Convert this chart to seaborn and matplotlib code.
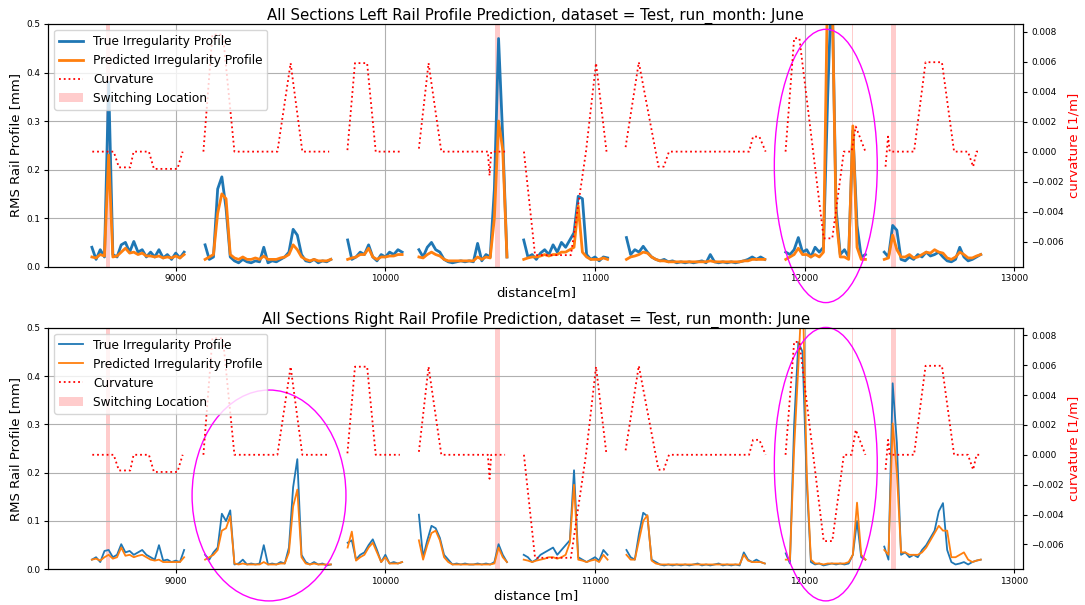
import matplotlib
matplotlib.use("Agg")
import matplotlib.pyplot as plt
from matplotlib.patches import Ellipse
from matplotlib.lines import Line2D
import seaborn as sns
import pandas as pd
import numpy as np

# distance sampling of the measured sections [m]
STEP = 20
section_start = [8600, 9140, 9820, 10160, 10660, 11150, 11910, 12380]

# RMS profile values in 1e-3 mm, one list per section
left_true = [
    [40, 15, 35, 20, 380, 25, 20, 45, 50, 30, 52, 30, 35, 20, 30, 20, 35, 18, 25, 15, 28, 18, 30],
    [45, 15, 20, 160, 185, 120, 20, 12, 8, 15, 10, 8, 12, 10, 40, 8, 12, 10, 15, 20, 30, 77, 65, 25, 12, 10, 15, 8, 12, 10, 15],
    [55, 15, 20, 30, 25, 45, 20, 12, 25, 20, 30, 25, 35, 30],
    [35, 20, 40, 50, 35, 30, 15, 10, 8, 10, 12, 10, 12, 10, 48, 12, 25, 20, 160, 470, 265, 20],
    [55, 20, 25, 15, 28, 35, 25, 45, 30, 50, 40, 55, 70, 145, 140, 25, 15, 20, 12, 20, 18],
    [60, 25, 35, 30, 42, 30, 20, 15, 12, 15, 10, 12, 8, 10, 8, 10, 8, 10, 12, 8, 25, 10, 8, 10, 8, 10, 8, 10, 12, 15, 20, 15, 20, 15],
    [30, 25, 35, 60, 30, 35, 20, 40, 30, 40, 350, 600, 120, 25, 35, 20, 280, 85, 20, 25],
    [30, 20, 85, 75, 15, 12, 20, 15, 25, 20, 30, 22, 25, 30, 20, 12, 10, 15, 40, 20, 12, 15, 20, 25],
]
left_pred = [
    [20, 18, 25, 22, 230, 20, 22, 30, 38, 28, 30, 25, 28, 22, 22, 20, 22, 18, 20, 18, 22, 18, 25],
    [15, 20, 25, 110, 150, 140, 25, 18, 15, 20, 15, 15, 18, 15, 22, 15, 15, 15, 18, 20, 25, 45, 35, 20, 15, 12, 15, 12, 12, 12, 15],
    [15, 18, 20, 25, 25, 38, 20, 15, 20, 20, 22, 22, 25, 25],
    [20, 18, 25, 30, 25, 22, 15, 12, 12, 12, 12, 12, 12, 12, 20, 15, 20, 18, 100, 300, 240, 20],
    [15, 18, 20, 20, 22, 25, 22, 25, 25, 30, 30, 35, 40, 125, 30, 20, 15, 15, 15, 18, 15],
    [15, 20, 22, 25, 30, 28, 20, 15, 12, 12, 10, 10, 10, 10, 10, 10, 10, 10, 10, 10, 12, 10, 10, 10, 10, 10, 10, 10, 12, 12, 15, 15, 15, 15],
    [15, 20, 25, 38, 25, 25, 20, 25, 20, 30, 600, 600, 100, 20, 20, 15, 290, 40, 15, 15],
    [15, 18, 65, 35, 20, 20, 25, 18, 20, 25, 30, 28, 35, 30, 28, 18, 15, 20, 30, 25, 18, 18, 22, 25],
]
right_true = [
    [20, 25, 15, 38, 40, 25, 30, 52, 35, 38, 30, 35, 40, 30, 25, 20, 50, 18, 20, 15, 18, 15, 40],
    [30, 20, 35, 45, 115, 100, 122, 10, 12, 20, 10, 12, 10, 12, 50, 10, 12, 10, 15, 12, 45, 170, 228, 30, 15, 10, 15, 10, 12, 8, 10],
    [55, 60, 20, 30, 35, 50, 62, 40, 15, 30, 12, 15, 12, 15],
    [113, 25, 60, 90, 85, 65, 30, 20, 10, 12, 10, 12, 10, 10, 12, 10, 12, 10, 15, 52, 30, 15],
    [30, 25, 15, 20, 30, 35, 40, 45, 30, 40, 50, 60, 205, 25, 20, 15, 20, 25, 18, 40, 30],
    [40, 25, 20, 74, 117, 110, 20, 15, 10, 8, 10, 8, 10, 8, 10, 8, 10, 12, 8, 10, 8, 10, 12, 8, 10, 8, 10, 8, 35, 20, 15, 20, 15, 12],
    [33, 12, 300, 470, 450, 180, 15, 10, 12, 8, 10, 12, 10, 12, 10, 12, 30, 100, 25, 20],
    [47, 20, 385, 262, 30, 35, 25, 30, 25, 40, 50, 65, 80, 120, 137, 40, 15, 10, 12, 15, 10, 15, 18, 20],
]
right_pred = [
    [20, 22, 18, 25, 30, 22, 25, 45, 28, 30, 25, 28, 30, 25, 20, 18, 20, 15, 15, 15, 15, 15, 25],
    [20, 25, 30, 40, 80, 85, 110, 12, 10, 12, 10, 10, 10, 10, 15, 10, 10, 10, 12, 12, 35, 130, 165, 25, 12, 10, 12, 10, 10, 10, 10],
    [45, 78, 18, 25, 30, 45, 55, 35, 15, 25, 12, 12, 12, 15],
    [60, 20, 50, 75, 80, 60, 25, 15, 10, 10, 10, 10, 10, 10, 10, 10, 10, 10, 12, 45, 25, 15],
    [20, 18, 15, 18, 20, 22, 25, 25, 22, 25, 30, 55, 175, 20, 18, 15, 18, 20, 15, 30, 20],
    [30, 20, 20, 60, 100, 112, 18, 12, 10, 10, 10, 10, 10, 10, 10, 10, 10, 10, 10, 10, 10, 10, 10, 10, 10, 10, 10, 10, 30, 18, 15, 15, 15, 12],
    [20, 20, 250, 420, 600, 200, 20, 12, 12, 10, 12, 12, 12, 12, 12, 15, 30, 138, 30, 20],
    [40, 30, 302, 200, 35, 35, 30, 30, 30, 35, 45, 60, 75, 90, 80, 80, 25, 25, 30, 35, 20, 15, 18, 20],
]

# track curvature breakpoints: (distance [m], curvature [1e-3 1/m])
curvature_segments = [
    [(8602, 0), (8704, 0), (8729, -1.05), (8783, -1.05), (8799, 0), (8872, 0), (8896, -1.15), (9008, -1.15), (9033, 0)],
    [(9132, 0), (9175, 7.8), (9225, 7.8), (9280, 0), (9485, 0), (9548, 5.9), (9604, 0), (9732, 0)],
    [(9819, 0.1), (9855, 5.9), (9913, 5.9), (9954, 0), (10069, 0)],
    [(10160, 0.2), (10206, 5.9), (10267, 0), (10489, 0), (10497, -1.6), (10505, 0), (10571, 0)],
    [(10661, 0), (10714, -6.9), (10885, -6.9), (10957, 0), (11005, 5.9), (11055, 0)],
    [(11146, 0.3), (11209, 5.96), (11303, -1.0), (11328, -1.0), (11353, 0), (11735, 0), (11754, 1.0), (11784, 1.0), (11814, 0)],
    [(11909, 0), (11950, 7.56), (11975, 7.56), (12091, -5.78), (12132, -5.78), (12187, 0), (12224, 0), (12244, 1.67), (12290, 0)],
    [(12386, -1.0), (12398, 1.0), (12406, 0), (12522, 0), (12577, 5.96), (12655, 5.96), (12713, 0), (12779, 0), (12804, -1.0), (12820, 0), (12837, 0)],
]

switch_center = [8677, 10534, 12229, 12425]
switch_width = [20, 24, 8, 25]

BLUE = "#1f77b4"
ORANGE = "#ff7f0e"


def profile_frame(true_secs, pred_secs):
    parts = []
    for k, (start, t, p) in enumerate(zip(section_start, true_secs, pred_secs)):
        d = start + STEP * np.arange(len(t))
        parts.append(pd.DataFrame({"distance": d,
                                   "true": np.array(t) / 1000,
                                   "pred": np.array(p) / 1000,
                                   "section": k}))
    return pd.concat(parts, ignore_index=True)


def curvature_frame():
    parts = []
    for k, seg in enumerate(curvature_segments):
        d, c = zip(*seg)
        parts.append(pd.DataFrame({"distance": d, "curvature": np.array(c) / 1000, "seg": k}))
    return pd.concat(parts, ignore_index=True)


def plot_panel(ax, df, curv, title, xlabel, lw):
    for c, w in zip(switch_center, switch_width):
        ax.axvspan(c - w / 2, c + w / 2, color="red", alpha=0.2, lw=0)
    sns.lineplot(data=df, x="distance", y="true", units="section", estimator=None,
                 color=BLUE, lw=lw, ax=ax)
    sns.lineplot(data=df, x="distance", y="pred", units="section", estimator=None,
                 color=ORANGE, lw=lw, ax=ax)
    ax.set_xlim(8392, 13043)
    ax.set_ylim(0, 0.5)
    ax.grid(True, color="#b0b0b0", lw=0.8)
    ax.set_title(title, fontsize=10.8, pad=3)
    ax.set_xlabel(xlabel, fontsize=9.5, labelpad=2)
    ax.set_ylabel("RMS Rail Profile [mm]", fontsize=9.5, labelpad=3)
    ax.tick_params(labelsize=6.4, length=3, pad=2.5)

    axr = ax.twinx()
    sns.lineplot(data=curv, x="distance", y="curvature", units="seg", estimator=None,
                 color="red", ls=":", lw=1.3, ax=axr)
    axr.set_ylim(-0.00767, 0.00851)
    axr.grid(False)
    axr.set_ylabel("curvature [1/m]", color="red", fontsize=9.5, labelpad=3)
    axr.tick_params(labelsize=6.4, length=3, pad=2.5)

    handles = [
        Line2D([], [], color=BLUE, lw=lw),
        Line2D([], [], color=ORANGE, lw=lw),
        Line2D([], [], color="red", ls=":", lw=1.3),
        plt.Rectangle((0, 0), 1, 1, color="red", alpha=0.2, lw=0),
    ]
    labels = ["True Irregularity Profile", "Predicted Irregularity Profile",
              "Curvature", "Switching Location"]
    axr.legend(handles, labels, loc="upper left", fontsize=8.7)
    return axr


def add_ring(ax, x, y, w, h):
    ax.add_patch(Ellipse((x, y), w, h, fill=False, edgecolor="magenta",
                         lw=1.0, clip_on=False, zorder=20))


fig = plt.figure(figsize=(10.85, 6.05), dpi=100)
ax_top = fig.add_axes([0.0445, 0.5592, 0.8986, 0.4012])
ax_bot = fig.add_axes([0.0445, 0.0590, 0.8986, 0.3993])

curv = curvature_frame()
plot_panel(ax_top, profile_frame(left_true, left_pred), curv,
           "All Sections Left Rail Profile Prediction, dataset = Test, run_month: June",
           "distance[m]", 2.0)
plot_panel(ax_bot, profile_frame(right_true, right_pred), curv,
           "All Sections Right Rail Profile Prediction, dataset = Test, run_month: June",
           "distance [m]", 1.3)

add_ring(ax_top, 12101, 0.2075, 491, 0.563)
add_ring(ax_bot, 9445, 0.1528, 734, 0.4365)
add_ring(ax_bot, 12101, 0.2176, 491, 0.566)

fig.savefig("out.png", dpi=100)
plt.close(fig)
